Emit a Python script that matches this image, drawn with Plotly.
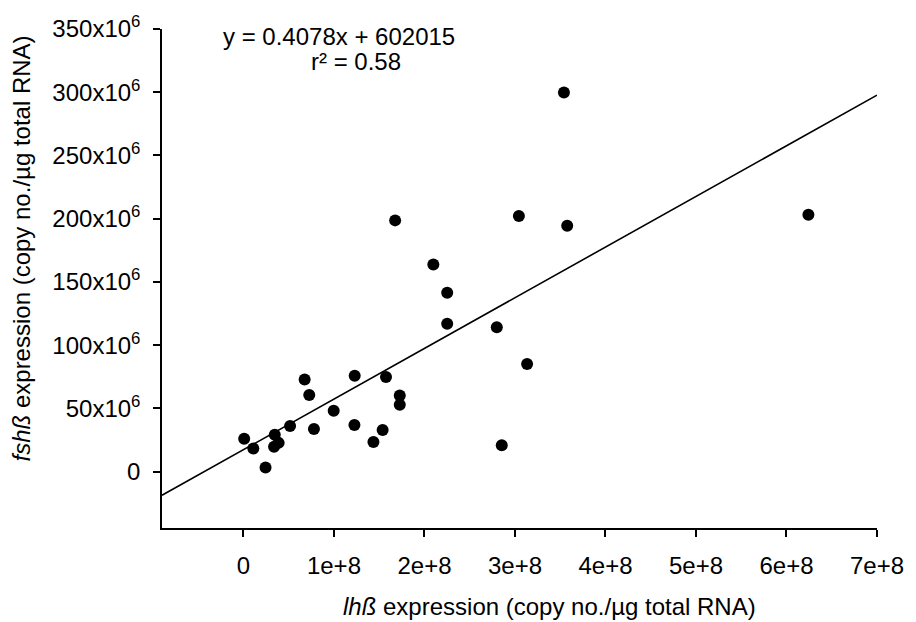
import numpy as np
import plotly.graph_objects as go

# lhß and fshß transcript copies per µg total RNA, in millions
lh_copies_m = [0.8, 10.9, 24.4, 34.6, 33.8, 38.9, 51.5, 67.6, 72.7, 77.9,
               99.7, 122.9, 122.6, 143.6, 157.5, 153.8, 172.7, 172.7, 167.6, 209.8,
               225.1, 225.1, 279.9, 285.4, 313.4, 304.3, 357.7, 354.1, 624.2]
fsh_copies_m = [26.0, 18.4, 3.3, 29.3, 19.8, 22.8, 36.1, 72.9, 60.7, 33.8,
                48.2, 75.8, 37.0, 23.4, 74.8, 33.0, 60.2, 52.9, 198.7, 163.8,
                141.4, 116.9, 114.3, 20.9, 85.2, 202.1, 194.5, 299.8, 203.1]

x_tick_vals = [0, 1e8, 2e8, 3e8, 4e8, 5e8, 6e8, 7e8]
x_tick_text = ["0", "1e+8", "2e+8", "3e+8", "4e+8", "5e+8", "6e+8", "7e+8"]
y_tick_vals = [0, 50e6, 100e6, 150e6, 200e6, 250e6, 300e6, 350e6]
y_tick_text = ["0"] + [f"{v}x10<sup>6</sup>" for v in (50, 100, 150, 200, 250, 300, 350)]

equation_text = "y = 0.4078x + 602015"
r2_text = "r² = 0.58"

x = np.array(lh_copies_m) * 1e6
y = np.array(fsh_copies_m) * 1e6

x_range = [-0.9e8, 7e8]
y_range = [-44.5e6, 350e6]

# least-squares regression line across the whole x axis
slope, intercept = np.polyfit(x, y, 1)
x_fit = np.array(x_range)
y_fit = slope * x_fit + intercept

FONT = "Liberation Sans, Arial, sans-serif"
FS = 24

fig = go.Figure()
fig.add_trace(go.Scatter(x=x_fit, y=y_fit, mode="lines",
                         line=dict(color="black", width=1.6),
                         hoverinfo="skip", showlegend=False))
fig.add_trace(go.Scatter(x=x, y=y, mode="markers",
                         marker=dict(color="black", size=12, line=dict(width=0)),
                         showlegend=False))

axis_common = dict(showline=True, linecolor="black", linewidth=1.5,
                   ticks="outside", ticklen=7, tickwidth=1.5, tickcolor="black",
                   showgrid=False, zeroline=False,
                   tickfont=dict(family=FONT, size=FS, color="black"))

fig.update_xaxes(range=x_range, tickvals=x_tick_vals, ticktext=x_tick_text,
                 ticklabelstandoff=8, **axis_common)
fig.update_yaxes(range=y_range, tickvals=y_tick_vals, ticktext=y_tick_text,
                 ticklabelstandoff=8, **axis_common)

annotations = [
    dict(text=equation_text, x=0.247, y=0.984, xref="paper", yref="paper",
         xanchor="center", yanchor="middle", showarrow=False),
    dict(text=r2_text, x=0.271, y=0.935, xref="paper", yref="paper",
         xanchor="center", yanchor="middle", showarrow=False),
    dict(text="<i>lhß</i> expression (copy no./µg total RNA)",
         x=0.5414, y=-0.1564, xref="paper", yref="paper",
         xanchor="center", yanchor="middle", showarrow=False),
    dict(text="<i>fshß</i> expression (copy no./µg total RNA)",
         x=-0.196, y=0.560, xref="paper", yref="paper", textangle=-90,
         xanchor="center", yanchor="middle", showarrow=False),
]
for a in annotations:
    a["font"] = dict(family=FONT, size=FS, color="black")

fig.update_layout(width=916, height=622,
                  margin=dict(l=162, r=30, t=23, b=94),
                  paper_bgcolor="white", plot_bgcolor="white",
                  font=dict(family=FONT, size=FS, color="black"),
                  annotations=annotations)

fig.write_html("out.html")
